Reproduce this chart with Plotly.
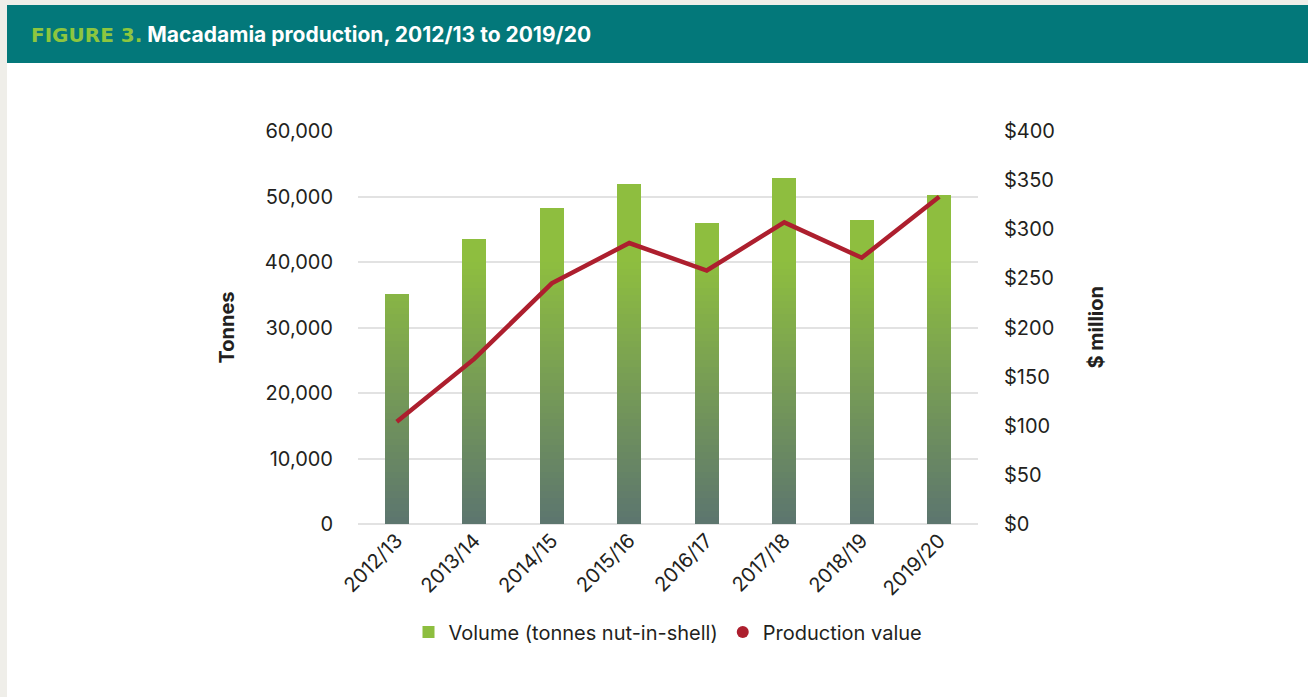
import plotly.graph_objects as go

# ---- data ----
seasons = ["2012/13", "2013/14", "2014/15", "2015/16", "2016/17", "2017/18", "2018/19", "2019/20"]
volume_tonnes = [35100, 43500, 48200, 51900, 46000, 52800, 46400, 50200]
value_musd = [104, 168, 245, 286, 258, 307, 271, 333]

left_ticks = [0, 10000, 20000, 30000, 40000, 50000, 60000]
right_ticks = [0, 50, 100, 150, 200, 250, 300, 350, 400]
right_tick_text = ["$" + str(v) for v in right_ticks]

# ---- geometry (pixels) ----
W, H = 1308, 697
PL, PR, PT, PB = 358, 978, 131, 524


def px_x(px):
    return (px - PL) / (PR - PL)


def px_y(py):
    return (PB - py) / (PB - PT)


FONT = "Inter"
TXT = "#231f20"
FS = 20

fig = go.Figure()

# gradient bars: stacked bands of the same volume values
BAND = 1000
c_bot = (92, 117, 111)
c_top = (142, 190, 63)
n_bands = int(max(volume_tonnes) // BAND) + 1


def band_color(mid):
    t = min(mid / 40000.0, 1.0)
    r, g, b = (round(c_bot[i] + (c_top[i] - c_bot[i]) * t) for i in range(3))
    return f"rgb({r},{g},{b})"


for k in range(n_bands):
    lo = k * BAND
    seg = [max(0, min(v - lo, BAND)) for v in volume_tonnes]
    fig.add_trace(go.Bar(
        x=seasons, y=seg, yaxis="y",
        marker=dict(color=band_color(lo + BAND / 2), line=dict(width=0)),
        showlegend=False, hoverinfo="skip",
    ))

# legend entry for the volume series + full-value hover
fig.add_trace(go.Bar(
    x=seasons, y=[0] * len(seasons), base=volume_tonnes, yaxis="y",
    name="Volume (tonnes nut-in-shell)",
    marker=dict(color="#8dbe3f", line=dict(width=0)),
    showlegend=True, legendrank=1, customdata=volume_tonnes,
    hovertemplate="%{x}: %{customdata:,} t<extra></extra>",
))

fig.add_trace(go.Scatter(
    x=seasons, y=value_musd, yaxis="y2", mode="lines",
    line=dict(color="#ad1f2e", width=4.5),
    name="Production value", showlegend=False,
))
fig.add_trace(go.Scatter(
    x=[None], y=[None], yaxis="y2", mode="markers",
    marker=dict(color="#ad1f2e", size=15),
    name="Production value", showlegend=True, legendrank=2,
))

shapes = [
    # light outer strips
    dict(type="rect", xref="paper", yref="paper", x0=px_x(0), x1=px_x(7), y0=px_y(H), y1=px_y(0),
         fillcolor="#efeee9", line=dict(width=0), layer="below"),
    dict(type="rect", xref="paper", yref="paper", x0=px_x(0), x1=px_x(W), y0=px_y(5), y1=px_y(0),
         fillcolor="#efeee9", line=dict(width=0), layer="below"),
    # header band
    dict(type="rect", xref="paper", yref="paper", x0=px_x(7), x1=px_x(W), y0=px_y(63), y1=px_y(5),
         fillcolor="#03787a", line=dict(width=0), layer="below"),
]

annotations = [
    dict(xref="paper", yref="paper", x=px_x(29), y=px_y(34), xanchor="left", yanchor="middle",
         text="<b><span style='color:#8dc63f;font-family:DejaVu Sans;font-size:20px'>FIGURE 3.</span> Macadamia production, 2012/13 to 2019/20</b>",
         showarrow=False, font=dict(family=FONT, size=21, color="white")),
    dict(xref="paper", yref="paper", x=px_x(226), y=0.5, xanchor="center", yanchor="middle",
         text="<b>Tonnes</b>", textangle=-90, showarrow=False,
         font=dict(family=FONT, size=FS, color=TXT)),
    dict(xref="paper", yref="paper", x=px_x(1095), y=0.5, xanchor="center", yanchor="middle",
         text="<b>$ million</b>", textangle=-90, showarrow=False,
         font=dict(family=FONT, size=FS, color=TXT)),
]

fig.update_layout(
    width=W, height=H,
    margin=dict(l=PL, r=W - PR, t=PT, b=H - PB, pad=0),
    paper_bgcolor="white", plot_bgcolor="white",
    barmode="stack", bargap=0.69,
    font=dict(family=FONT, size=FS, color=TXT),
    xaxis=dict(type="category", tickangle=-45, showgrid=False, showline=False, ticks="",
               tickfont=dict(family=FONT, size=FS, color=TXT), fixedrange=True),
    yaxis=dict(range=[0, 60000], tickvals=left_ticks, tickformat=",",
               showgrid=True, gridcolor="#e2e2e2", gridwidth=2,
               zeroline=True, zerolinecolor="#e2e2e2", zerolinewidth=2,
               showline=False, ticks="", ticklabelstandoff=24,
               tickfont=dict(family=FONT, size=FS, color=TXT), fixedrange=True),
    yaxis2=dict(range=[0, 400], tickvals=right_ticks, ticktext=right_tick_text,
                overlaying="y", side="right", showgrid=False, zeroline=False,
                showline=False, ticks="", ticklabelstandoff=25,
                tickfont=dict(family=FONT, size=FS, color=TXT), fixedrange=True),
    legend=dict(orientation="h", x=0.5, xanchor="center", y=px_y(632), yanchor="middle",
                font=dict(family=FONT, size=FS, color=TXT), itemsizing="constant",
                traceorder="normal", bgcolor="rgba(0,0,0,0)"),
    shapes=shapes, annotations=annotations,
    hovermode="closest",
)

fig.write_html("out.html")
